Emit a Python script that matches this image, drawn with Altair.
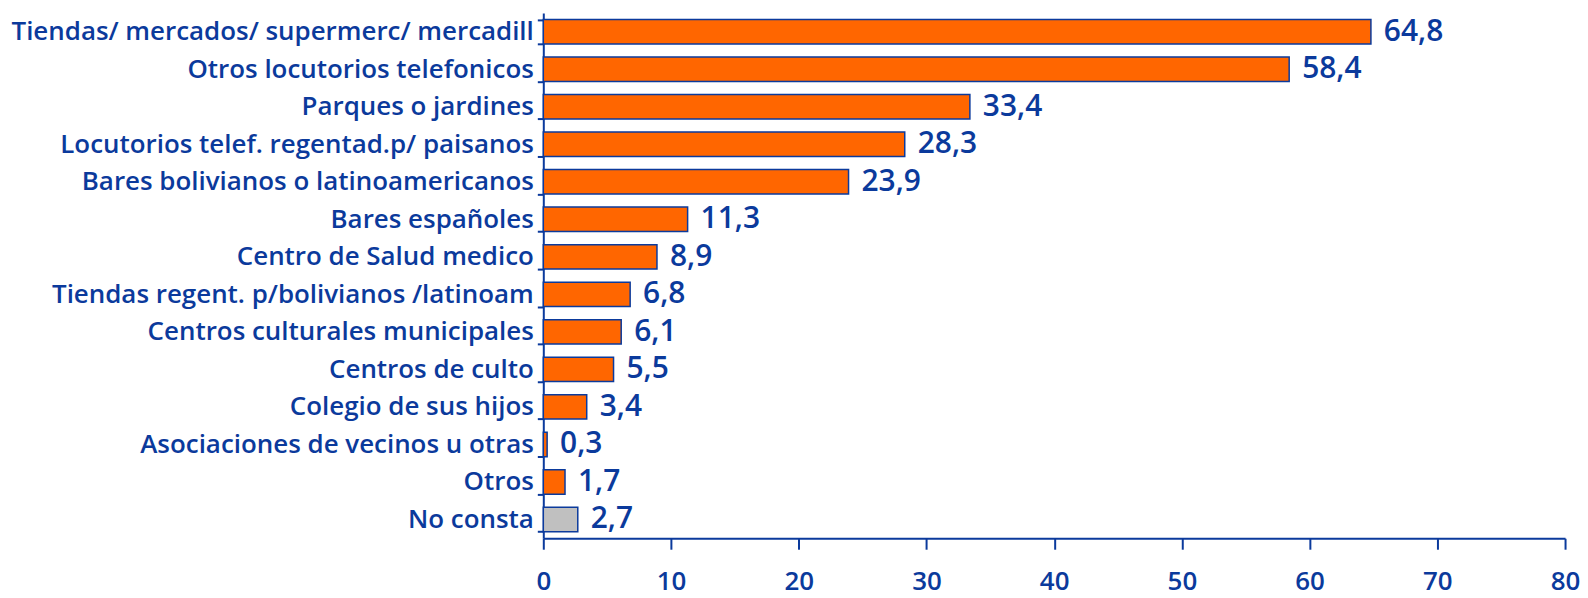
import altair as alt
import pandas as pd

categories = [
    "Tiendas/ mercados/ supermerc/ mercadill",
    "Otros locutorios telefonicos",
    "Parques o jardines",
    "Locutorios telef. regentad.p/ paisanos",
    "Bares bolivianos o latinoamericanos",
    "Bares españoles",
    "Centro de Salud medico",
    "Tiendas regent. p/bolivianos /latinoam",
    "Centros culturales municipales",
    "Centros de culto",
    "Colegio de sus hijos",
    "Asociaciones de vecinos u otras",
    "Otros",
    "No consta",
]
values = [64.8, 58.4, 33.4, 28.3, 23.9, 11.3, 8.9, 6.8, 6.1, 5.5, 3.4, 0.3, 1.7, 2.7]
kinds = ["resp"] * 13 + ["nc"]
x_ticks = [0, 10, 20, 30, 40, 50, 60, 70, 80]

BLUE = "#0B3A9C"

df = pd.DataFrame({
    "cat": categories,
    "value": values,
    "kind": kinds,
    "label": [f"{v:.1f}".replace(".", ",") for v in values],
})

base = alt.Chart(df).encode(
    y=alt.Y(
        "cat:N",
        sort=categories,
        scale=alt.Scale(paddingInner=0.35, paddingOuter=0.175),
        axis=alt.Axis(
            title=None,
            tickBand="extent",
            tickSize=6,
            tickColor=BLUE,
            tickWidth=2,
            domainColor=BLUE,
            domainWidth=2,
            labelPadding=4,
            labelFont="Open Sans",
            labelFontWeight=600,
            labelFontSize=26,
            labelColor=BLUE,
            labelLimit=0,
        ),
    )
)

bars = base.mark_bar(stroke=BLUE, strokeWidth=1.5).encode(
    x=alt.X(
        "value:Q",
        scale=alt.Scale(domain=[0, 80], nice=False, zero=True),
        axis=alt.Axis(
            title=None,
            values=x_ticks,
            grid=False,
            tickSize=11,
            tickColor=BLUE,
            tickWidth=2,
            domainColor=BLUE,
            domainWidth=2,
            labelPadding=19,
            labelFlush=False,
            labelFont="Open Sans",
            labelFontWeight=600,
            labelFontSize=26,
            labelColor=BLUE,
        ),
    ),
    color=alt.Color(
        "kind:N",
        scale=alt.Scale(domain=["resp", "nc"], range=["#FF6600", "#C0C0C0"]),
        legend=None,
    ),
)

text = base.mark_text(
    align="left", baseline="middle", dx=13,
    font="Open Sans", fontWeight=600, fontSize=30, color=BLUE,
).encode(x="value:Q", text="label:N")

chart = (bars + text).properties(
    width=1025,
    height=527,
    autosize=alt.AutoSizeParams(type="none"),
    padding={"left": 537, "top": 4, "right": 15, "bottom": 58},
).configure_view(stroke=None)

chart.save("out.html", embed_options={"renderer": "svg", "actions": False})
